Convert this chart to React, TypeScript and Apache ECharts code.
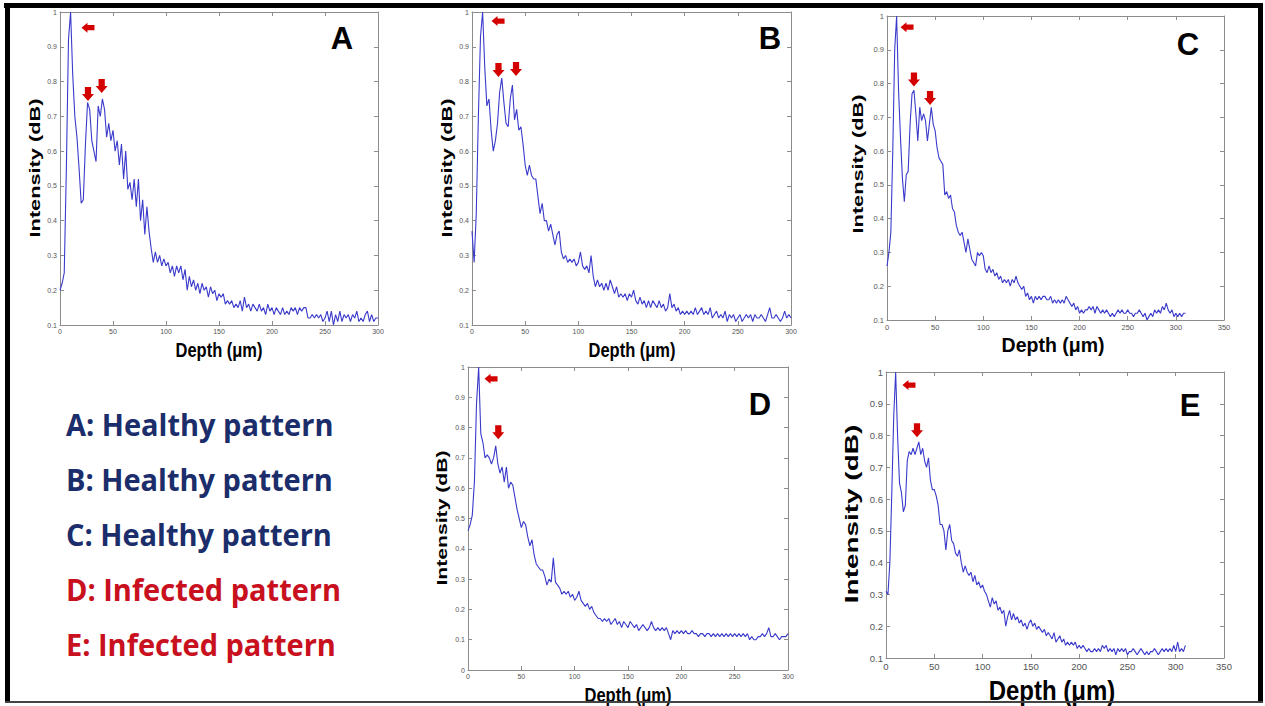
import React, { useEffect, useRef } from "react";
import * as echarts from "echarts";

// Sampling step of the depth profiles (µm)
const DEPTH_STEP = 2;

// Intensity profiles, one value per 2 µm starting at 0 µm
const intensityA = [
  0.20, 0.22, 0.25, 0.55, 0.92, 1.00, 0.82, 0.70, 0.64, 0.55,
  0.45, 0.46, 0.62, 0.74, 0.72, 0.63, 0.60, 0.57, 0.73, 0.70,
  0.75, 0.72, 0.64, 0.68, 0.63, 0.66, 0.60, 0.63, 0.56, 0.62,
  0.52, 0.60, 0.49, 0.51, 0.46, 0.52, 0.44, 0.52, 0.40, 0.46,
  0.36, 0.44, 0.37, 0.32, 0.28, 0.31, 0.28, 0.30, 0.27, 0.29,
  0.27, 0.28, 0.25, 0.27, 0.24, 0.27, 0.25, 0.27, 0.23, 0.26,
  0.20, 0.24, 0.21, 0.23, 0.20, 0.22, 0.19, 0.22, 0.20, 0.21,
  0.18, 0.21, 0.19, 0.20, 0.17, 0.19, 0.18, 0.19, 0.16, 0.17,
  0.16, 0.17, 0.15, 0.16, 0.15, 0.17, 0.14, 0.18, 0.15, 0.16,
  0.14, 0.16, 0.15, 0.14, 0.16, 0.14, 0.15, 0.13, 0.16, 0.14,
  0.15, 0.13, 0.15, 0.14, 0.13, 0.15, 0.13, 0.14, 0.13, 0.15,
  0.14, 0.15, 0.13, 0.15, 0.14, 0.15, 0.15, 0.12, 0.12, 0.13,
  0.12, 0.13, 0.12, 0.13, 0.11, 0.12, 0.14, 0.11, 0.14, 0.10,
  0.13, 0.11, 0.14, 0.11, 0.13, 0.12, 0.13, 0.11, 0.13, 0.12,
  0.14, 0.11, 0.12, 0.11, 0.13, 0.14, 0.11, 0.13, 0.11, 0.12,
  0.12,
];

const intensityB = [
  0.37, 0.28, 0.42, 0.70, 0.93, 1.00, 0.84, 0.73, 0.75, 0.66,
  0.60, 0.63, 0.68, 0.77, 0.81, 0.74, 0.68, 0.67, 0.75, 0.79,
  0.69, 0.72, 0.66, 0.67, 0.62, 0.56, 0.53, 0.56, 0.53, 0.52,
  0.52, 0.47, 0.42, 0.45, 0.40, 0.40, 0.37, 0.39, 0.36, 0.33,
  0.36, 0.37, 0.31, 0.29, 0.30, 0.28, 0.29, 0.28, 0.29, 0.27,
  0.28, 0.31, 0.27, 0.26, 0.27, 0.25, 0.30, 0.24, 0.21, 0.23,
  0.21, 0.22, 0.20, 0.22, 0.20, 0.23, 0.21, 0.19, 0.21, 0.18,
  0.19, 0.18, 0.19, 0.17, 0.19, 0.18, 0.20, 0.17, 0.16, 0.18,
  0.16, 0.17, 0.15, 0.17, 0.15, 0.17, 0.16, 0.15, 0.17, 0.15,
  0.16, 0.14, 0.15, 0.19, 0.15, 0.16, 0.14, 0.15, 0.13, 0.14,
  0.13, 0.14, 0.13, 0.14, 0.13, 0.15, 0.13, 0.14, 0.15, 0.13,
  0.14, 0.13, 0.15, 0.12, 0.13, 0.14, 0.12, 0.13, 0.12, 0.14,
  0.11, 0.13, 0.12, 0.13, 0.11, 0.12, 0.13, 0.11, 0.12, 0.13,
  0.12, 0.13, 0.11, 0.13, 0.12, 0.12, 0.13, 0.12, 0.11, 0.13,
  0.15, 0.12, 0.12, 0.13, 0.12, 0.11, 0.12, 0.14, 0.12, 0.13,
  0.12,
];

const intensityC = [
  0.26, 0.30, 0.36, 0.60, 0.90, 1.00, 0.78, 0.64, 0.52, 0.45,
  0.53, 0.54, 0.68, 0.77, 0.78, 0.71, 0.63, 0.73, 0.69, 0.71,
  0.69, 0.63, 0.68, 0.73, 0.68, 0.66, 0.61, 0.58, 0.57, 0.56,
  0.47, 0.48, 0.46, 0.47, 0.43, 0.42, 0.38, 0.36, 0.35, 0.36,
  0.33, 0.30, 0.34, 0.31, 0.28, 0.27, 0.26, 0.30, 0.29, 0.30,
  0.29, 0.25, 0.24, 0.26, 0.24, 0.25, 0.23, 0.24, 0.22, 0.23,
  0.21, 0.22, 0.21, 0.22, 0.20, 0.22, 0.21, 0.23, 0.21, 0.20,
  0.19, 0.20, 0.17, 0.18, 0.16, 0.17, 0.15, 0.17, 0.16, 0.17,
  0.16, 0.17, 0.17, 0.16, 0.16, 0.17, 0.15, 0.16, 0.15, 0.16,
  0.15, 0.16, 0.15, 0.17, 0.16, 0.15, 0.14, 0.15, 0.13, 0.14,
  0.12, 0.13, 0.12, 0.13, 0.13, 0.14, 0.13, 0.14, 0.12, 0.14,
  0.13, 0.12, 0.13, 0.12, 0.13, 0.12, 0.11, 0.12, 0.11, 0.12,
  0.13, 0.12, 0.13, 0.12, 0.12, 0.13, 0.12, 0.12, 0.11, 0.12,
  0.12, 0.13, 0.12, 0.11, 0.12, 0.10, 0.11, 0.12, 0.11, 0.13,
  0.12, 0.13, 0.12, 0.14, 0.13, 0.15, 0.13, 0.12, 0.13, 0.11,
  0.12, 0.11, 0.12, 0.11, 0.12, 0.12,
];

const intensityD = [
  0.46, 0.48, 0.51, 0.62, 0.88, 1.00, 0.78, 0.75, 0.70, 0.71,
  0.70, 0.68, 0.70, 0.74, 0.68, 0.65, 0.67, 0.62, 0.67, 0.60,
  0.62, 0.61, 0.57, 0.53, 0.50, 0.47, 0.49, 0.48, 0.44, 0.41,
  0.43, 0.38, 0.35, 0.34, 0.33, 0.33, 0.31, 0.28, 0.30, 0.29,
  0.37, 0.29, 0.28, 0.27, 0.25, 0.26, 0.25, 0.26, 0.24, 0.25,
  0.23, 0.24, 0.26, 0.23, 0.22, 0.21, 0.22, 0.20, 0.21, 0.19,
  0.18, 0.17, 0.17, 0.16, 0.17, 0.16, 0.17, 0.15, 0.16, 0.17,
  0.15, 0.16, 0.14, 0.16, 0.15, 0.14, 0.16, 0.15, 0.14, 0.15,
  0.13, 0.14, 0.15, 0.14, 0.13, 0.14, 0.16, 0.14, 0.13, 0.14,
  0.13, 0.14, 0.13, 0.14, 0.12, 0.10, 0.13, 0.12, 0.13, 0.12,
  0.13, 0.12, 0.13, 0.12, 0.12, 0.13, 0.12, 0.12, 0.11, 0.12,
  0.12, 0.11, 0.12, 0.12, 0.11, 0.12, 0.11, 0.12, 0.11, 0.12,
  0.11, 0.12, 0.11, 0.12, 0.11, 0.12, 0.11, 0.12, 0.11, 0.12,
  0.11, 0.12, 0.10, 0.11, 0.10, 0.10, 0.11, 0.11, 0.12, 0.11,
  0.12, 0.14, 0.11, 0.11, 0.12, 0.11, 0.10, 0.11, 0.11, 0.11,
  0.12,
];

const intensityE = [
  0.31, 0.30, 0.40, 0.62, 0.86, 1.00, 0.80, 0.65, 0.62, 0.56,
  0.58, 0.72, 0.75, 0.74, 0.76, 0.74, 0.76, 0.78, 0.74, 0.76,
  0.72, 0.70, 0.73, 0.66, 0.63, 0.63, 0.61, 0.58, 0.52, 0.52,
  0.50, 0.44, 0.50, 0.52, 0.47, 0.46, 0.43, 0.42, 0.44, 0.40,
  0.37, 0.39, 0.37, 0.36, 0.37, 0.34, 0.36, 0.33, 0.34, 0.32,
  0.33, 0.31, 0.30, 0.28, 0.26, 0.29, 0.27, 0.28, 0.25, 0.26,
  0.24, 0.25, 0.20, 0.23, 0.25, 0.22, 0.24, 0.22, 0.23, 0.21,
  0.22, 0.20, 0.21, 0.19, 0.21, 0.22, 0.20, 0.21, 0.19, 0.20,
  0.19, 0.18, 0.19, 0.17, 0.18, 0.17, 0.16, 0.18, 0.15, 0.16,
  0.17, 0.15, 0.16, 0.14, 0.15, 0.14, 0.15, 0.14, 0.15, 0.13,
  0.14, 0.13, 0.14, 0.13, 0.12, 0.13, 0.12, 0.12, 0.13, 0.12,
  0.13, 0.12, 0.14, 0.13, 0.14, 0.12, 0.13, 0.12, 0.13, 0.11,
  0.13, 0.12, 0.13, 0.12, 0.13, 0.11, 0.12, 0.12, 0.13, 0.12,
  0.11, 0.12, 0.13, 0.12, 0.11, 0.12, 0.11, 0.12, 0.12, 0.13,
  0.12, 0.11, 0.12, 0.13, 0.12, 0.13, 0.12, 0.13, 0.12, 0.14,
  0.12, 0.15, 0.12, 0.13, 0.12, 0.14,
];

// Red arrow annotations: [depth µm, intensity]
const arrowsLeftA = [[26.4, 0.955]];
const arrowsDownA = [[26.4, 0.764], [39.3, 0.787]];
const arrowsLeftB = [[24.5, 0.974]];
const arrowsDownB = [[24.9, 0.833], [41.4, 0.836]];
const arrowsLeftC = [[20.8, 0.967]];
const arrowsDownC = [[28.0, 0.812], [44.7, 0.757]];
const arrowsLeftD = [[21.6, 0.961]];
const arrowsDownD = [[28.4, 0.785]];
const arrowsLeftE = [[23.8, 0.959]];
const arrowsDownE = [[32.1, 0.817]];

// Legend lines
const legendLabels = [
  "A: Healthy pattern",
  "B: Healthy pattern",
  "C: Healthy pattern",
  "D: Infected pattern",
  "E: Infected pattern",
];
const legendInfected = [false, false, false, true, true];

const X_TICK = 50;
const Y_TICK = 0.1;
const X_TITLE = "Depth (\u03bcm)";
const Y_TITLE = "Intensity (dB)";

const LEFT_ARROW = "path://M0,5L5.5,0L5.5,2.4L12,2.4L12,7.6L5.5,7.6L5.5,10Z";
const DOWN_ARROW = "path://M2.4,0L7.6,0L7.6,5.5L10,5.5L5,11L0,5.5L2.4,5.5Z";

type Panel = {
  letter: string;
  values: number[];
  left: number[][];
  down: number[][];
  grid: { left: number; top: number; width: number; height: number };
  xMax: number;
  yMin: number;
  tickFont: number;
  letterPos: [number, number];
  yTitle: { x: number; y: number; size: number; stretch: number };
  xTitle: { x: number; y: number; size: number; stretch: number };
};

const panels: Panel[] = [
  {
    letter: "A", values: intensityA, left: arrowsLeftA, down: arrowsDownA,
    grid: { left: 60, top: 12, width: 318, height: 313 }, xMax: 300, yMin: 0.1, tickFont: 7,
    letterPos: [342, 38],
    yTitle: { x: 35, y: 168, size: 14.5, stretch: 1.5 },
    xTitle: { x: 219, y: 350, size: 16.5, stretch: 1.25 },
  },
  {
    letter: "B", values: intensityB, left: arrowsLeftB, down: arrowsDownB,
    grid: { left: 472, top: 12, width: 319, height: 313 }, xMax: 300, yMin: 0.1, tickFont: 7,
    letterPos: [770, 38],
    yTitle: { x: 447, y: 168, size: 14.5, stretch: 1.5 },
    xTitle: { x: 632, y: 350, size: 16.5, stretch: 1.25 },
  },
  {
    letter: "C", values: intensityC, left: arrowsLeftC, down: arrowsDownC,
    grid: { left: 887, top: 16, width: 337, height: 304 }, xMax: 350, yMin: 0.1, tickFont: 7.5,
    letterPos: [1188, 44],
    yTitle: { x: 858, y: 164, size: 15, stretch: 1.45 },
    xTitle: { x: 1053, y: 345, size: 19.5, stretch: 1.0 },
  },
  {
    letter: "D", values: intensityD, left: arrowsLeftD, down: arrowsDownD,
    grid: { left: 468, top: 367, width: 320, height: 303 }, xMax: 300, yMin: 0, tickFont: 7,
    letterPos: [760, 404],
    yTitle: { x: 442, y: 518, size: 14.5, stretch: 1.46 },
    xTitle: { x: 628, y: 695, size: 16.5, stretch: 1.25 },
  },
  {
    letter: "E", values: intensityE, left: arrowsLeftE, down: arrowsDownE,
    grid: { left: 886, top: 372, width: 338, height: 286 }, xMax: 350, yMin: 0.1, tickFont: 9.5,
    letterPos: [1190, 405],
    yTitle: { x: 851, y: 514, size: 19, stretch: 1.47 },
    xTitle: { x: 1052, y: 691, size: 24, stretch: 1.12 },
  },
];

const AXIS_GRAY = "#8c8c8c";
const LABEL_GRAY = "#555555";
const LINE_BLUE = "#3a3acb";
const ARROW_RED = "#d40000";

function buildOption() {
  const grids: any[] = [];
  const xAxes: any[] = [];
  const yAxes: any[] = [];
  const series: any[] = [];
  const graphics: any[] = [];

  panels.forEach((p, i) => {
    grids.push({ ...p.grid, containLabel: false });
    const lineStyle = { color: AXIS_GRAY, width: 1 };
    const tick = { show: true, inside: true, length: 4, lineStyle };
    const label = {
      show: true,
      fontSize: p.tickFont,
      color: LABEL_GRAY,
      fontFamily: "Liberation Sans, Arial, sans-serif",
    };
    xAxes.push({
      type: "value", gridIndex: i, position: "bottom", min: 0, max: p.xMax, interval: X_TICK,
      axisLine: { show: true, onZero: false, lineStyle }, axisTick: tick,
      axisLabel: { ...label, margin: 3 }, splitLine: { show: false },
    });
    xAxes.push({
      type: "value", gridIndex: i, position: "top", min: 0, max: p.xMax, interval: X_TICK,
      axisLine: { show: true, onZero: false, lineStyle }, axisTick: tick,
      axisLabel: { show: false }, splitLine: { show: false },
    });
    yAxes.push({
      type: "value", gridIndex: i, position: "left", min: p.yMin, max: 1, interval: Y_TICK,
      axisLine: { show: true, onZero: false, lineStyle }, axisTick: tick,
      axisLabel: { ...label, margin: 3, formatter: (v: number) => String(Math.round(v * 10) / 10) },
      splitLine: { show: false },
    });
    yAxes.push({
      type: "value", gridIndex: i, position: "right", min: p.yMin, max: 1, interval: Y_TICK,
      axisLine: { show: true, onZero: false, lineStyle }, axisTick: tick,
      axisLabel: { show: false }, splitLine: { show: false },
    });

    const markData = [
      ...p.left.map((c) => ({ coord: c, symbol: LEFT_ARROW, symbolSize: [13, 10] })),
      ...p.down.map((c) => ({ coord: c, symbol: DOWN_ARROW, symbolSize: [12, 14] })),
    ];

    series.push({
      type: "line",
      name: p.letter,
      xAxisIndex: i * 2,
      yAxisIndex: i * 2,
      data: p.values.map((v, k) => [k * DEPTH_STEP, v]),
      showSymbol: false,
      symbol: "none",
      lineStyle: { color: LINE_BLUE, width: 1.1 },
      clip: true,
      markPoint: {
        data: markData,
        label: { show: false },
        itemStyle: { color: ARROW_RED },
        silent: true,
      },
    });

    // panel letter
    graphics.push({
      type: "text", x: p.letterPos[0], y: p.letterPos[1],
      style: {
        text: p.letter, fill: "#000", fontSize: 31, fontWeight: "bold",
        fontFamily: "Liberation Sans, Arial, sans-serif", align: "center", verticalAlign: "middle",
      },
    });
    // y title
    graphics.push({
      type: "text", x: p.yTitle.x, y: p.yTitle.y, rotation: Math.PI / 2, scaleX: p.yTitle.stretch,
      style: {
        text: Y_TITLE, fill: "#000", fontSize: p.yTitle.size, fontWeight: "bold",
        fontFamily: "Liberation Sans, Arial, sans-serif", align: "center", verticalAlign: "middle",
      },
    });
    // x title
    graphics.push({
      type: "text", x: p.xTitle.x, y: p.xTitle.y, scaleY: p.xTitle.stretch,
      style: {
        text: X_TITLE, fill: "#000", fontSize: p.xTitle.size, fontWeight: "bold",
        fontFamily: "Liberation Sans, Arial, sans-serif", align: "center", verticalAlign: "middle",
      },
    });
  });

  // legend text
  const legendY = [423, 478, 533, 588, 643];
  legendLabels.forEach((t, k) => {
    graphics.push({
      type: "text", x: 66, y: legendY[k] + 2, scaleY: 1.03,
      style: {
        text: t, fill: legendInfected[k] ? "#c8101e" : "#1b2d6b", fontSize: 29, fontWeight: "bold",
        fontFamily: "Open Sans, Noto Sans, sans-serif", align: "left", verticalAlign: "middle",
      },
    });
  });

  // outer frame
  graphics.push({ type: "rect", shape: { x: 4, y: 3, width: 1259, height: 5 }, style: { fill: "#000" } });
  graphics.push({ type: "rect", shape: { x: 5, y: 3, width: 5, height: 700 }, style: { fill: "#000" } });
  graphics.push({ type: "rect", shape: { x: 1258, y: 3, width: 5, height: 699 }, style: { fill: "#000" } });
  graphics.push({ type: "rect", shape: { x: 5, y: 701, width: 1258, height: 2 }, style: { fill: "#444" } });

  return {
    animation: false,
    backgroundColor: "#ffffff",
    grid: grids,
    xAxis: xAxes,
    yAxis: yAxes,
    series,
    graphic: { elements: graphics },
  };
}

export default function App() {
  const ref = useRef<HTMLDivElement>(null);
  useEffect(() => {
    document.body.style.margin = "0";
    if (!ref.current) return;
    const chart = echarts.init(ref.current, undefined, { renderer: "svg" });
    chart.setOption(buildOption() as any);
    return () => chart.dispose();
  }, []);
  return (
    <div
      ref={ref}
      style={{ position: "fixed", left: 0, top: 0, width: 1265, height: 706, background: "#fff" }}
    />
  );
}
